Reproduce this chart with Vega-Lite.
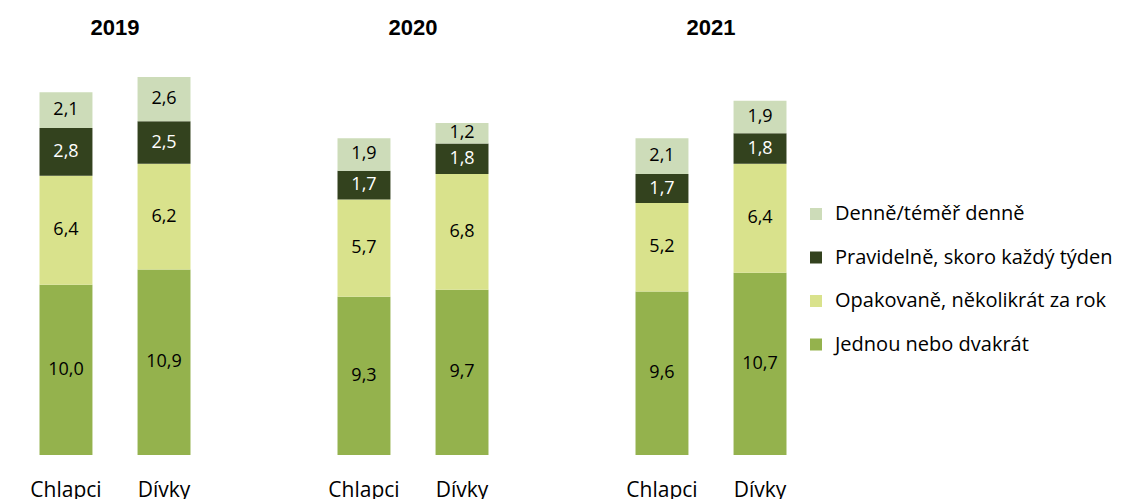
{
  "$schema": "https://vega.github.io/schema/vega-lite/v6.json",
  "padding": {"left": 15, "top": 17, "right": 0, "bottom": 0},
  "background": "white",
  "data": {
    "values": [
      {"rok": "2019", "pohlavi": "Chlapci", "kat": "Jednou nebo dvakrát", "hodnota": 10.0},
      {"rok": "2019", "pohlavi": "Chlapci", "kat": "Opakovaně, několikrát za rok", "hodnota": 6.4},
      {"rok": "2019", "pohlavi": "Chlapci", "kat": "Pravidelně, skoro každý týden", "hodnota": 2.8},
      {"rok": "2019", "pohlavi": "Chlapci", "kat": "Denně/téměř denně", "hodnota": 2.1},
      {"rok": "2019", "pohlavi": "Dívky", "kat": "Jednou nebo dvakrát", "hodnota": 10.9},
      {"rok": "2019", "pohlavi": "Dívky", "kat": "Opakovaně, několikrát za rok", "hodnota": 6.2},
      {"rok": "2019", "pohlavi": "Dívky", "kat": "Pravidelně, skoro každý týden", "hodnota": 2.5},
      {"rok": "2019", "pohlavi": "Dívky", "kat": "Denně/téměř denně", "hodnota": 2.6},
      {"rok": "2020", "pohlavi": "Chlapci", "kat": "Jednou nebo dvakrát", "hodnota": 9.3},
      {"rok": "2020", "pohlavi": "Chlapci", "kat": "Opakovaně, několikrát za rok", "hodnota": 5.7},
      {"rok": "2020", "pohlavi": "Chlapci", "kat": "Pravidelně, skoro každý týden", "hodnota": 1.7},
      {"rok": "2020", "pohlavi": "Chlapci", "kat": "Denně/téměř denně", "hodnota": 1.9},
      {"rok": "2020", "pohlavi": "Dívky", "kat": "Jednou nebo dvakrát", "hodnota": 9.7},
      {"rok": "2020", "pohlavi": "Dívky", "kat": "Opakovaně, několikrát za rok", "hodnota": 6.8},
      {"rok": "2020", "pohlavi": "Dívky", "kat": "Pravidelně, skoro každý týden", "hodnota": 1.8},
      {"rok": "2020", "pohlavi": "Dívky", "kat": "Denně/téměř denně", "hodnota": 1.2},
      {"rok": "2021", "pohlavi": "Chlapci", "kat": "Jednou nebo dvakrát", "hodnota": 9.6},
      {"rok": "2021", "pohlavi": "Chlapci", "kat": "Opakovaně, několikrát za rok", "hodnota": 5.2},
      {"rok": "2021", "pohlavi": "Chlapci", "kat": "Pravidelně, skoro každý týden", "hodnota": 1.7},
      {"rok": "2021", "pohlavi": "Chlapci", "kat": "Denně/téměř denně", "hodnota": 2.1},
      {"rok": "2021", "pohlavi": "Dívky", "kat": "Jednou nebo dvakrát", "hodnota": 10.7},
      {"rok": "2021", "pohlavi": "Dívky", "kat": "Opakovaně, několikrát za rok", "hodnota": 6.4},
      {"rok": "2021", "pohlavi": "Dívky", "kat": "Pravidelně, skoro každý týden", "hodnota": 1.8},
      {"rok": "2021", "pohlavi": "Dívky", "kat": "Denně/téměř denně", "hodnota": 1.9}
    ]
  },
  "transform": [
    {"calculate": "indexof(['Jednou nebo dvakrát', 'Opakovaně, několikrát za rok', 'Pravidelně, skoro každý týden', 'Denně/téměř denně'], datum.kat)", "as": "poradi"},
    {"stack": "hodnota", "groupby": ["rok", "pohlavi"], "sort": [{"field": "poradi", "order": "ascending"}], "as": ["y0", "y1"]},
    {"calculate": "(datum.y0 + datum.y1) / 2", "as": "ystred"},
    {"calculate": "replace(format(datum.hodnota, '.1f'), '.', ',')", "as": "popisek"}
  ],
  "facet": {
    "column": {
      "field": "rok",
      "type": "ordinal",
      "title": null,
      "header": {
        "labelOrient": "top",
        "labelFont": "Liberation Sans",
        "labelFontSize": 22,
        "labelFontWeight": "bold",
        "labelColor": "black",
        "labelPadding": 36
      }
    }
  },
  "spacing": 98,
  "spec": {
    "width": 200,
    "height": 378,
    "encoding": {
      "x": {
        "field": "pohlavi",
        "type": "nominal",
        "sort": ["Chlapci", "Dívky"],
        "scale": {"paddingInner": 0.46, "paddingOuter": 0.25},
        "axis": {
          "title": null,
          "domain": false,
          "ticks": false,
          "labelAngle": 0,
          "labelFont": "Open Sans",
          "labelFontSize": 21,
          "labelColor": "black",
          "labelPadding": 24
        }
      }
    },
    "layer": [
      {
        "mark": {"type": "bar"},
        "encoding": {
          "y": {"field": "y0", "type": "quantitative", "scale": {"domain": [0, 22.2], "nice": false}, "axis": null},
          "y2": {"field": "y1"},
          "color": {
            "field": "kat",
            "type": "nominal",
            "scale": {
              "domain": ["Denně/téměř denně", "Pravidelně, skoro každý týden", "Opakovaně, několikrát za rok", "Jednou nebo dvakrát"],
              "range": ["#cddcb9", "#33421e", "#d9e28c", "#94b24d"]
            },
            "legend": {
              "title": null,
              "orient": "none",
              "legendX": 791,
              "legendY": 127,
              "symbolType": "square",
              "symbolSize": 144,
              "symbolStrokeWidth": 0,
              "labelFont": "Open Sans",
              "labelFontSize": 20,
              "labelColor": "black",
              "labelOffset": 9,
              "rowPadding": 23.5,
              "labelLimit": 400
            }
          }
        }
      },
      {
        "mark": {"type": "text", "font": "Open Sans", "fontSize": 18, "baseline": "middle"},
        "encoding": {
          "y": {"field": "ystred", "type": "quantitative"},
          "text": {"field": "popisek"},
          "color": {
            "condition": {"test": "datum.kat === 'Pravidelně, skoro každý týden'", "value": "white"},
            "value": "black"
          }
        }
      }
    ]
  },
  "config": {"view": {"stroke": null}}
}
